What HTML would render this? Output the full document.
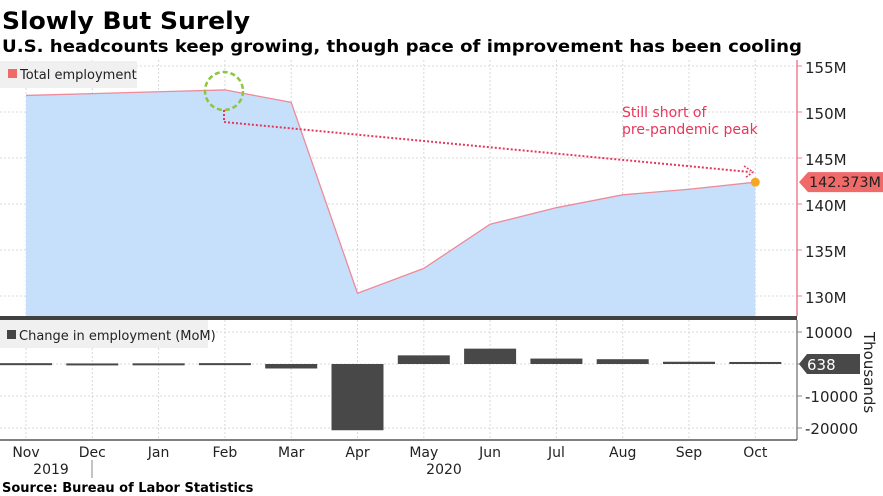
<!DOCTYPE html>
<html><head><meta charset="utf-8"><style>
html,body{margin:0;padding:0;background:#fff;}
svg{display:block;font-family:"DejaVu Sans","Liberation Sans",sans-serif;}
</style></head><body>
<svg id="chart" width="883" height="496" viewBox="0 0 883 496" xmlns="http://www.w3.org/2000/svg">
<text x="2" y="29" font-size="24" font-weight="bold" textLength="248" lengthAdjust="spacingAndGlyphs">Slowly But Surely</text>
<text x="2" y="52" font-size="16.5" font-weight="bold" textLength="800" lengthAdjust="spacingAndGlyphs">U.S. headcounts keep growing, though pace of improvement has been cooling</text>
<g id="grid"></g>
<g id="upper"></g>
<g id="lower"></g>
<rect x="0" y="316" width="797" height="4" fill="#404040"/>
<g>
<rect x="0" y="61" width="137" height="27" fill="#f0f0f0"/>
<rect x="8" y="69" width="9" height="9" fill="#f06a6a"/>
<text x="20" y="79" font-size="13" fill="#222">Total employment</text>
</g>
<g>
<rect x="0" y="320" width="208" height="28" fill="#f0f0f0"/>
<rect x="7" y="330" width="9" height="9" fill="#444"/>
<text x="19" y="340" font-size="13" fill="#222">Change in employment (MoM)</text>
</g>
<g>
<circle cx="224" cy="91" r="19" fill="none" stroke="#8cc63f" stroke-width="2.5" stroke-dasharray="5,3"/>
<polyline points="224,110 224,122 750,172" fill="none" stroke="#e8365a" stroke-width="2" stroke-dasharray="2,2"/>
<path d="M744,166 L753,172 L745,178" fill="none" stroke="#e8365a" stroke-width="1.5" stroke-dasharray="2,1.5"/>
<text x="622" y="117" font-size="14" fill="#e8365a">Still short of</text>
<text x="622" y="134" font-size="14" fill="#e8365a">pre-pandemic peak</text>
</g>
<text x="2" y="492" font-size="13" font-weight="bold">Source: Bureau of Labor Statistics</text>
<text transform="translate(864,332) rotate(90)" font-size="15" fill="#222">Thousands</text>
</svg>
<script>
const months = ["Nov","Dec","Jan","Feb","Mar","Apr","May","Jun","Jul","Aug","Sep","Oct"];
const totalEmployment = [151.8, 152.0, 152.2, 152.4, 151.05, 130.3, 133.0, 137.8, 139.6, 141.0, 141.6, 142.373];
const changeEmployment = [260, 180, 210, 270, -1400, -20700, 2700, 4800, 1700, 1500, 700, 638];
const upperTicks = [155, 150, 145, 140, 135, 130];
const lowerTicks = [10000, 0, -10000, -20000];
const lowerTickLabels = ["10000", "", "-10000", "-20000"];

const NS = "http://www.w3.org/2000/svg";
function mk(tag, attrs, parent){const e=document.createElementNS(NS,tag);for(const k in attrs)e.setAttribute(k,attrs[k]);parent.appendChild(e);return e;}
const xS = i => 26 + i*66.3;
const yU = v => 296 - (v-130)*9.2;
const yL = v => 364 - v*0.0032;
const grid=document.getElementById('grid'), up=document.getElementById('upper'), lo=document.getElementById('lower'), svg=document.getElementById('chart');

months.forEach((m,i)=>{
  const l=mk('line',{x1:xS(i),x2:xS(i),y1:60,y2:440,stroke:'#d8d8d8','stroke-dasharray':'2,2'},grid);
  
  
  const t=mk('text',{x:xS(i),y:457,'font-size':14,'text-anchor':'middle',fill:'#222'},svg);
  t.textContent=m;
  
  
});
upperTicks.forEach(v=>{
  const y=yU(v);
  const l=mk('line',{x1:0,x2:797,y1:y,y2:y,stroke:'#d8d8d8','stroke-dasharray':'2,2'},grid);
  
  
  mk('line',{x1:797,x2:802,y1:y,y2:y,stroke:'#f08090'},svg);
  const t=mk('text',{x:805,y:y+7,'font-size':15,fill:'#222'},svg);
  t.textContent=v+'M';
  
  
});
lowerTicks.forEach((v,i)=>{
  const y=yL(v);
  const l=mk('line',{x1:0,x2:797,y1:y,y2:y,stroke:'#d8d8d8','stroke-dasharray':'2,2'},grid);
  
  
  mk('line',{x1:797,x2:802,y1:y,y2:y,stroke:'#888'},svg);
  if(lowerTickLabels[i]){
    const t=mk('text',{x:805,y:y+6,'font-size':15,fill:'#222'},svg);
    t.textContent=lowerTickLabels[i];
    
    
  }
});
let pts=totalEmployment.map((v,i)=>xS(i)+','+yU(v)).join(' ');
const area=mk('polygon',{points:xS(0)+',316 '+pts+' '+xS(11)+',316',fill:'#c6e0fb'},up);


const line=mk('polyline',{points:pts,fill:'none',stroke:'#ee8a9a','stroke-width':1.3},up);


const last=totalEmployment.length-1;
const dot=mk('circle',{cx:xS(last),cy:yU(totalEmployment[last]),r:4.5,fill:'#f5a623'},up);


changeEmployment.forEach((v,i)=>{
  const y0=yL(0), y1=yL(v);
  const r=mk('rect',{x:xS(i)-26,y:Math.min(y0,y1),width:52,height:Math.max(2,Math.abs(y1-y0)),fill:'#484848'},lo);
  
  
});
mk('line',{x1:797,x2:797,y1:60,y2:316,stroke:'#f08090','stroke-width':1.5},svg);
mk('line',{x1:797,x2:797,y1:320,y2:440,stroke:'#888','stroke-width':1.5},svg);
mk('line',{x1:0,x2:797,y1:440,y2:440,stroke:'#555','stroke-width':1.5},svg);
mk('line',{x1:92,x2:92,y1:460,y2:478,stroke:'#888'},svg);
[[51,'2019'],[444,'2020']].forEach(([x,s])=>{
  const t=mk('text',{x:x,y:474,'font-size':14,'text-anchor':'middle',fill:'#222'},svg);
  t.textContent=s;
  
  
});
const yv=yU(totalEmployment[last]);
const tg=mk('polygon',{points:`799,${yv} 808,${yv-10} 883,${yv-10} 883,${yv+10} 808,${yv+10}`,fill:'#f06a6a'},svg);


const tt=mk('text',{x:809,y:yv+5,'font-size':14,fill:'#222',textLength:72,lengthAdjust:'spacingAndGlyphs'},svg);
tt.textContent=totalEmployment[last].toFixed(3)+'M';


const yc=yL(0);
const tc=mk('polygon',{points:`799,${yc} 807,${yc-10} 860,${yc-10} 860,${yc+10} 807,${yc+10}`,fill:'#484848'},svg);


const tct=mk('text',{x:807,y:yc+6,'font-size':15,fill:'#fff'},svg);
tct.textContent=String(changeEmployment[last]);


</script>
</body></html>
